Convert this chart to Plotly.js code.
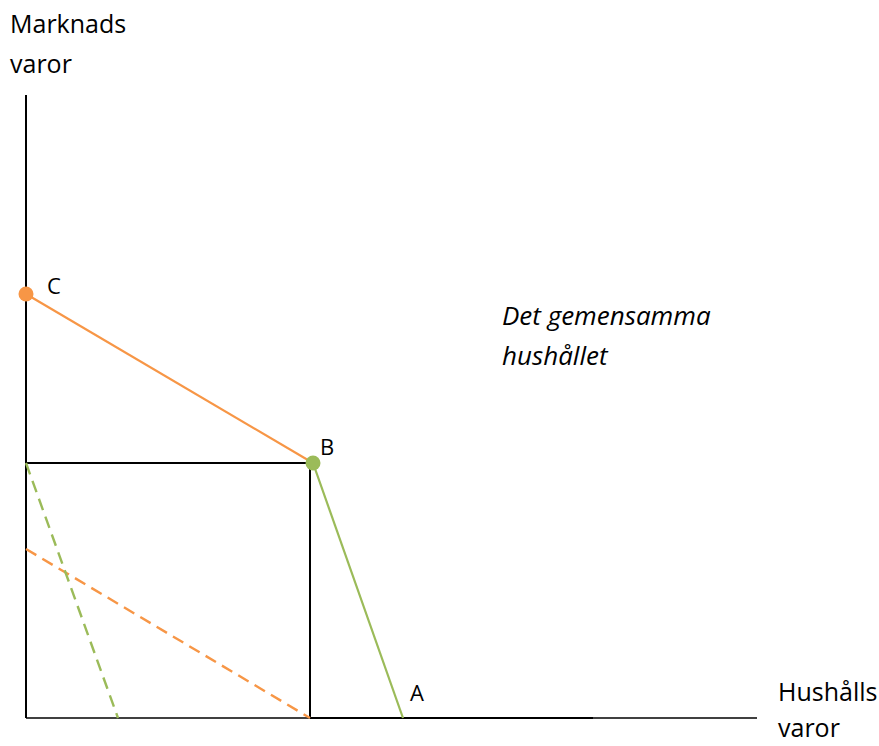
<!DOCTYPE html>
<html>
<head>
<meta charset="utf-8">
<script src="https://cdn.plot.ly/plotly-3.0.1.min.js"></script>
<style>html,body{margin:0;padding:0;background:#fff;}#chart{width:879px;height:746px;}</style>
</head>
<body>
<div id="chart"></div>
<script>
// Data (units: horizontal = hushållsvaror, vertical = marknadsvaror)
const axisX = [0, 731];          // horizontal axis extent
const axisY = [0, 623];          // vertical axis extent
const pointLabels = ["C", "B", "A"];
const frontierX = [0, 287, 377]; // C -> B -> A
const frontierY = [424, 255, 0];
const boxX = [0, 284, 284];
const boxY = [255, 255, 0];
const orangeDashX = [0, 284];
const orangeDashY = [169, 0];
const greenDashX = [0, 92];
const greenDashY = [255, 0];
const xTitle = ["Hushålls", "varor"];
const yTitle = ["Marknads", "varor"];
const regionLabel = ["Det gemensamma", "hushållet"];

const orange = "#F79646";
const green = "#9BBB59";
const font = "Open Sans, Noto Sans, sans-serif";

const traces = [
  {x: [axisX[0], axisX[1]], y: [0, 0], mode: "lines", line: {color: "#000", width: 1.5}},
  {x: [284, 567], y: [0, 0], mode: "lines", line: {color: "#000", width: 2.2}},
  {x: [0, 0], y: [axisY[0], axisY[1]], mode: "lines", line: {color: "#000", width: 2}},
  {x: boxX, y: boxY, mode: "lines", line: {color: "#000", width: 2}},
  {x: orangeDashX, y: orangeDashY, mode: "lines", line: {color: orange, width: 2.4, dash: "12px,7px"}},
  {x: greenDashX, y: greenDashY, mode: "lines", line: {color: green, width: 2.4, dash: "12px,7px"}},
  {x: frontierX.slice(0, 2), y: frontierY.slice(0, 2), mode: "lines", line: {color: orange, width: 2.2}},
  {x: frontierX.slice(1, 3), y: frontierY.slice(1, 3), mode: "lines", line: {color: green, width: 2.2}},
  {x: [frontierX[0]], y: [frontierY[0]], mode: "markers", marker: {color: orange, size: 15}},
  {x: [frontierX[1]], y: [frontierY[1]], mode: "markers", marker: {color: green, size: 15}}
];

const ann = (text, x, y, opts) => Object.assign({
  text, x, y, xref: "x", yref: "y", showarrow: false,
  xanchor: "left", yanchor: "middle", borderpad: 0,
  font: {family: font, size: 22, color: "#000"}
}, opts || {});

const big = {family: font, size: 25, color: "#000"};
const ital = {family: font, size: 26, color: "#000", style: "italic"};

const annotations = [
  ann(pointLabels[0], 20, 433),
  ann(pointLabels[1], 293, 272),
  ann(pointLabels[2], 383, 26),
  ann(yTitle[0], -17, 695, {font: big}),
  ann(yTitle[1], -17, 655, {font: big}),
  ann(xTitle[0], 751, 27, {font: big}),
  ann(xTitle[1], 751, -9, {font: big}),
  ann(regionLabel[0], 475, 403, {font: ital}),
  ann(regionLabel[1], 475, 363, {font: ital})
];

const layout = {
  width: 879, height: 746,
  margin: {l: 0, r: 0, t: 0, b: 0},
  paper_bgcolor: "#fff", plot_bgcolor: "#fff",
  showlegend: false,
  xaxis: {range: [-26, 853], visible: false, fixedrange: true},
  yaxis: {range: [-28, 718], visible: false, fixedrange: true},
  annotations
};

Plotly.newPlot("chart", traces, layout, {displayModeBar: false, staticPlot: true});
</script>
</body>
</html>
